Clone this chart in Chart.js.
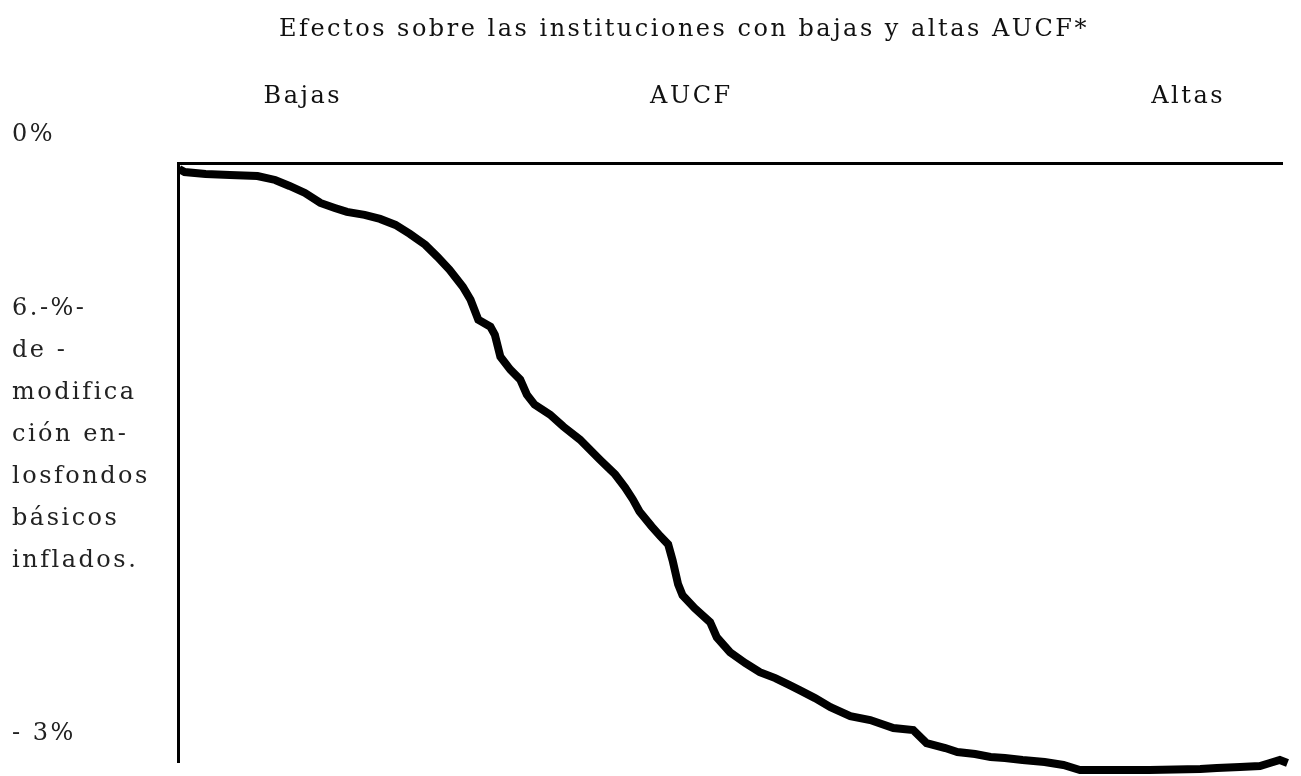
<!DOCTYPE html>
<html>
<head>
<meta charset="utf-8">
<script src="https://cdn.jsdelivr.net/npm/chart.js@4"></script>
<style>
  html, body { margin: 0; padding: 0; background: #fff; }
  #wrap { width: 1301px; height: 776px; position: relative; }
</style>
</head>
<body>
<div id="wrap"><canvas id="aucfChart"></canvas></div>
<script>
// position along the AUCF range (0 = bajas, 100 = altas)
const positions = [0.1, 0.6, 2.5, 4.7, 7.2, 8.8, 10.1, 11.5, 12.9, 14.2, 15.3, 16.9, 18.3, 19.7, 21.0, 22.4,
  23.5, 24.6, 25.8, 26.5, 27.2, 28.3, 28.7, 29.2, 30.1, 31.0, 31.6, 32.3, 33.7, 34.9, 36.4, 38.2, 39.6,
  40.5, 41.2, 41.8, 42.9, 43.7, 44.4, 44.8, 45.3, 45.7, 46.8, 48.2, 48.8, 50.0, 51.4, 52.7, 54.1, 55.4,
  56.3, 57.7, 59.1, 60.9, 62.7, 64.8, 66.6, 67.8, 69.5, 70.6, 72.2, 73.6, 74.9, 76.5, 78.5, 80.2, 81.7,
  83.5, 88.0, 92.6, 94.1, 96.2, 98.0, 98.9, 99.8, 100.5, 101.0];

// % change in inflated basic funds
const changes = [-0.03, -0.045, -0.055, -0.06, -0.065, -0.085, -0.115, -0.15, -0.2, -0.225, -0.245, -0.26,
  -0.28, -0.31, -0.355, -0.41, -0.47, -0.535, -0.62, -0.685, -0.785, -0.82, -0.86, -0.97, -1.035, -1.085,
  -1.16, -1.21, -1.26, -1.32, -1.385, -1.485, -1.56, -1.625, -1.685, -1.745, -1.82, -1.87, -1.91, -1.99,
  -2.11, -2.165, -2.23, -2.3, -2.375, -2.45, -2.505, -2.55, -2.58, -2.615, -2.64, -2.68, -2.725, -2.77,
  -2.79, -2.83, -2.84, -2.905, -2.93, -2.95, -2.96, -2.975, -2.98, -2.99, -3.0, -3.015, -3.04, -3.04,
  -3.04, -3.035, -3.03, -3.025, -3.02, -3.005, -2.99, -3.005, -3.04];

const xTickValues = [11.3, 46.5, 91.5];
const xTickLabels = ['Bajas', 'AUCF', 'Altas'];

const yTickValues = [0, -1.5, -3];
const yTickLabels = ['0%', ['6.-%-', 'de -', 'modifica', 'ción en-', 'losfondos', 'básicos', 'inflados.'], '- 3%'];

const titleText = 'Efectos sobre las instituciones con bajas y altas AUCF*';

const serif = "'DejaVu Serif', 'Liberation Serif', serif";

// wide letter spacing like the original bitmap font,
// and the title sits a bit right of the page centre
const tweaksPlugin = {
    id: 'tweaks',
    afterLayout(chart) {
        if (chart.titleBlock) {
            chart.titleBlock.left = 86;
            chart.titleBlock.right = 1282;
        }
    },
    beforeDraw(chart) {
        chart.ctx.letterSpacing = '2.5px';
    }
};

new Chart(document.getElementById('aucfChart'), {
    type: 'line',
    data: {
        datasets: [{
            data: positions.map((x, i) => ({ x: x, y: changes[i] })),
            borderColor: '#000',
            borderWidth: 8,
            pointRadius: 0,
            tension: 0,
            fill: false,
            clip: false
        }]
    },
    options: {
        responsive: true,
        maintainAspectRatio: false,
        animation: false,
        layout: { padding: { left: 12, right: 19, top: 0, bottom: 14 } },
        plugins: {
            legend: { display: false },
            tooltip: { enabled: false },
            title: {
                display: true,
                text: titleText,
                color: '#111',
                font: { family: serif, size: 24, weight: 'normal', lineHeight: 1.2 },
                padding: { top: 15, bottom: 7 }
            }
        },
        scales: {
            x: {
                type: 'linear',
                position: 'top',
                min: 0,
                max: 100,
                grid: { display: false, drawTicks: false },
                border: { display: true, color: '#000', width: 3 },
                afterFit(scale) {
                    scale.height = 163 - (15 + 24 * 1.2 + 7);
                    scale.paddingLeft = 0;
                    scale.paddingRight = 0;
                },
                afterBuildTicks(scale) { scale.ticks = xTickValues.map(v => ({ value: v })); },
                ticks: {
                    padding: 52,
                    maxRotation: 0,
                    color: '#111',
                    font: { family: serif, size: 24, lineHeight: 1.2 },
                    callback: (v, i) => xTickLabels[i]
                }
            },
            y: {
                type: 'linear',
                min: -3,
                max: 0,
                grid: { display: false, drawTicks: false },
                border: { display: true, color: '#000', width: 3 },
                afterFit(scale) {
                    scale.width = 166;
                    scale.paddingTop = 0;
                    scale.paddingBottom = 0;
                },
                afterBuildTicks(scale) { scale.ticks = yTickValues.map(v => ({ value: v })); },
                ticks: {
                    crossAlign: 'far',
                    labelOffset: -28,
                    autoSkip: false,
                    color: '#222',
                    font: { family: serif, size: 24, lineHeight: 1.75 },
                    callback: (v, i) => yTickLabels[i]
                }
            }
        }
    },
    plugins: [tweaksPlugin]
});
</script>
</body>
</html>
